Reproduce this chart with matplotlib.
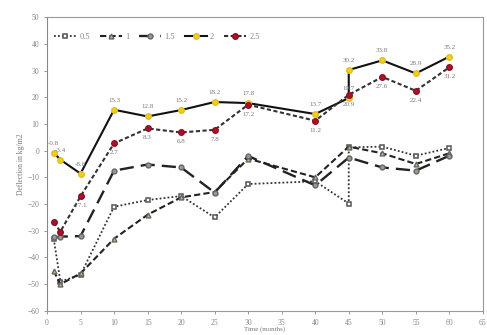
import matplotlib
matplotlib.use("Agg")
import matplotlib.pyplot as plt

# ---- data ----
t_common = [1, 2, 5, 10, 15, 20, 25, 30, 40, 45, 50, 55, 60]
t_dup45 = [1, 2, 5, 10, 15, 20, 25, 30, 40, 45, 45, 50, 55, 60]

s05 = [-33.0, -49.0, -46.5, -21.0, -18.5, -17.0, -25.0, -12.5, -11.5, -19.8, 1.2, 1.5, -1.9, 1.0]
s10 = [-45.0, -50.0, -46.0, -33.0, -24.0, -17.5, -15.5, -3.0, -10.0, 1.5, -1.0, -5.0, -1.0]
s15 = [-32.5, -32.2, -32.0, -7.5, -5.2, -6.3, -15.7, -2.0, -13.0, -2.6, -6.3, -7.5, -1.9]
s20 = [-0.8, -3.4, -8.6, 15.3, 12.8, 15.2, 18.2, 17.8, 13.7, 19.7, 30.2, 33.8, 28.9, 35.2]
s25 = [-26.8, -30.3, -17.1, 2.7, 8.3, 6.8, 7.8, 17.2, 11.2, 20.9, 27.6, 22.4, 31.2]

legend_labels = ["0.5", "1", "1.5", "2", "2.5"]
x_ticks = list(range(0, 70, 5))
y_ticks = list(range(-60, 60, 10))

plt.rcParams['font.family'] = ['Liberation Serif', 'DejaVu Serif']

fig = plt.figure(figsize=(4.87, 3.35), dpi=100)
ax = fig.add_axes([0.0965, 0.072, 0.895, 0.877])

ax.plot(t_dup45, s05, linestyle=(0, (1, 1.2)), color='#333333', lw=1.3,
        marker='s', mfc='white', mec='#555555', ms=3.5, mew=1.1, label=legend_labels[0])
ax.plot(t_common, s10, linestyle=(0, (3, 1.5)), color='#222222', lw=1.5,
        marker='^', mfc='#d9b27c', mec='#666666', ms=3.5, label=legend_labels[1])
ax.plot(t_common, s15, linestyle=(0, (6, 3)), color='#222222', lw=1.7,
        marker='o', mfc='#999999', mec='#666666', ms=3.5, label=legend_labels[2])
ax.plot(t_dup45, s20, linestyle='-', color='#111111', lw=1.5,
        marker='o', mfc='#f2cf1d', mec='#e0c020', ms=4, label=legend_labels[3])
ax.plot(t_common, s25, linestyle=(0, (2, 1.2)), color='#333333', lw=1.5,
        marker='o', mfc='#b0102a', mec='#8a0f20', ms=4, label=legend_labels[4])

# data labels for series 2 (above) and 2.5 (below)
for x, y in zip(t_dup45, s20):
    ax.annotate(f"{y:.1f}", (x, y), textcoords='offset points', xytext=(0, 5),
                ha='center', va='bottom', fontsize=5, color='#777777')
for x, y in zip(t_common, s25):
    if x <= 2:
        continue
    ax.annotate(f"{y:.1f}", (x, y), textcoords='offset points', xytext=(0, -5),
                ha='center', va='top', fontsize=5, color='#777777')

ax.set_xlim(0, 65)
ax.set_ylim(-60, 50)
ax.set_xticks(x_ticks)
ax.set_yticks(y_ticks)
ax.tick_params(labelsize=5.5, colors='#888888', length=2, width=0.6)
for s in ['top', 'right', 'bottom']:
    ax.spines[s].set_linestyle((0, (1, 1)))
    ax.spines[s].set_color('#999999')
ax.spines['left'].set_color('#888888')

ax.set_xlabel("Time (months)", fontsize=5, color='#777777')
ax.xaxis.set_label_coords(0.5, -0.052)
ax.set_ylabel("Deflection in kg/m2", fontsize=5.5, color='#777777', labelpad=2)

ax.legend(loc='upper left', ncol=5, frameon=False, fontsize=6, handlelength=2.6,
          columnspacing=1.2, handletextpad=0.4, bbox_to_anchor=(0.0, 0.97),
          labelcolor='#888888')

fig.savefig("out.png", dpi=100)
